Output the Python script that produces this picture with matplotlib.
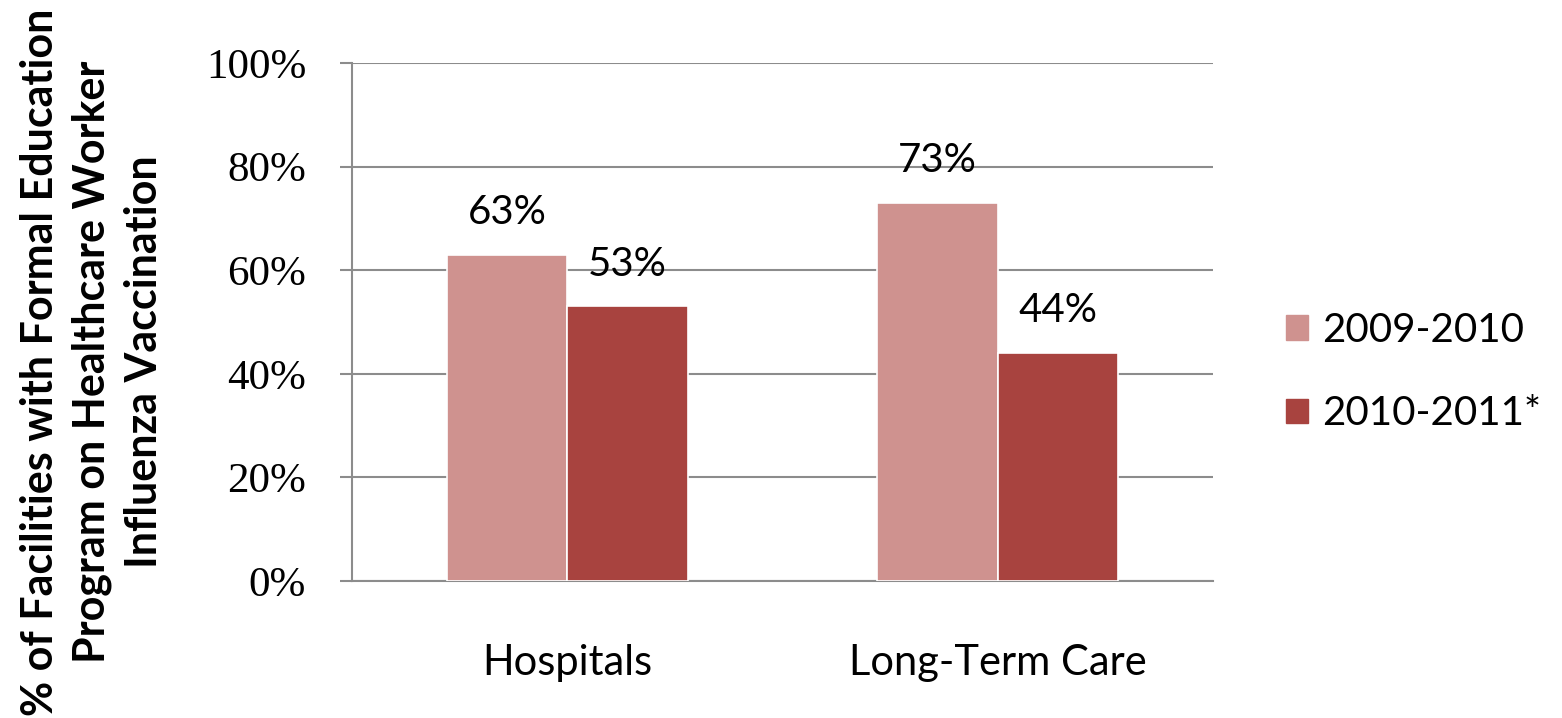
import matplotlib
matplotlib.use("Agg")
import matplotlib.pyplot as plt
import numpy as np
from matplotlib.patches import Patch

categories = ["Hospitals", "Long-Term Care"]
series_names = ["2009-2010", "2010-2011*"]
values_2009 = [63, 73]
values_2010 = [53, 44]
yticks = [0, 20, 40, 60, 80, 100]
ytick_labels = ["0%", "20%", "40%", "60%", "80%", "100%"]
ylabel = "% of Facilities with Formal Education\nProgram on Healthcare Worker\nInfluenza Vaccination"

c_light = "#CF928F"
c_dark = "#A8433F"
grid_c = "#8C8C8C"
sans = "Lato"

fig = plt.figure(figsize=(15.62, 7.18), dpi=100)
ax = fig.add_axes([0.2254, 0.1908, 0.7766 - 0.2254, 0.9123 - 0.1908])

x = np.arange(len(categories))
w = 0.28
b1 = ax.bar(x - w / 2, values_2009, w, color=c_light, edgecolor="white", linewidth=1.2, zorder=3)
b2 = ax.bar(x + w / 2, values_2010, w, color=c_dark, edgecolor="white", linewidth=1.2, zorder=3)

for bars, vals in ((b1, values_2009), (b2, values_2010)):
    for r, v in zip(bars, vals):
        ax.annotate(f"{v}%", (r.get_x() + r.get_width() / 2, v), xytext=(0, 17),
                    textcoords="offset points", ha="center", va="bottom",
                    fontsize=29, family=sans, color="black")

ax.set_xlim(-0.5, 1.5)
ax.set_ylim(0, 100)
ax.set_yticks(yticks)
ax.set_yticklabels(ytick_labels, family="Liberation Serif", fontsize=31)
ax.set_xticks(x)
ax.set_xticklabels(categories, family=sans, fontsize=30)
ax.tick_params(axis="x", length=0, pad=45)
ax.tick_params(axis="y", length=9, width=1.5, color=grid_c, pad=24)
ax.yaxis.grid(True, color=grid_c, linewidth=1.5, zorder=0)
ax.set_axisbelow(True)
for s in ("top", "right"):
    ax.spines[s].set_visible(False)
for s in ("left", "bottom"):
    ax.spines[s].set_color(grid_c)
    ax.spines[s].set_linewidth(1.5)

handles = [Patch(color=c_light), Patch(color=c_dark)]
fig.legend(handles, series_names, loc="center left", bbox_to_anchor=(1250 / 1562, 1 - 372 / 718),
           frameon=False, prop={"family": sans, "size": 29}, handlelength=0.55, handleheight=0.55,
           handletextpad=0.35, labelspacing=1.15)

fig.text(92 / 1562, 1 - 362 / 718, ylabel, rotation=90, ha="center", va="center",
         multialignment="center", fontsize=31, fontweight="bold", family=sans, linespacing=1.35)

fig.savefig("out.png", dpi=100)
